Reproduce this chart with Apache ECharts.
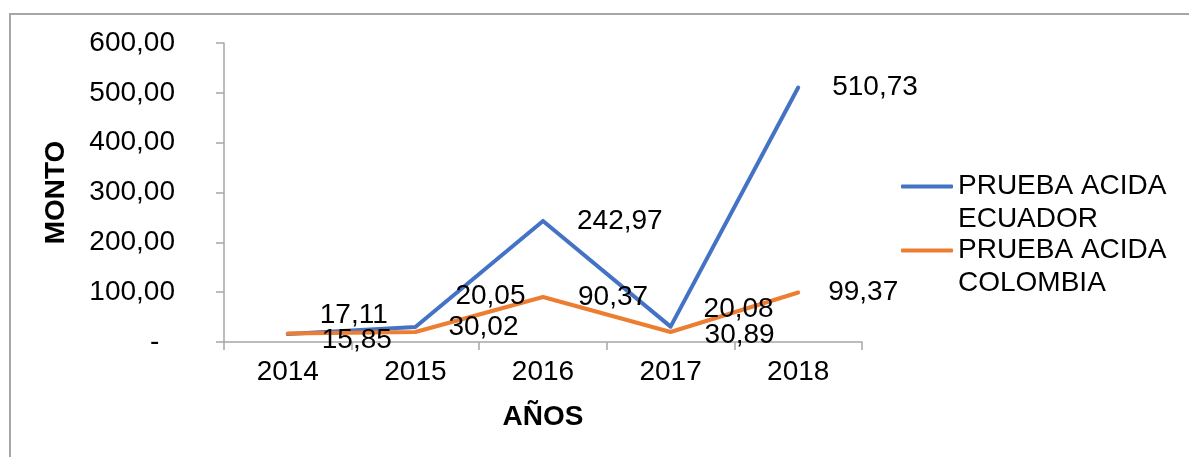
<!DOCTYPE html>
<html>
<head>
<meta charset="utf-8">
<script src="https://cdn.jsdelivr.net/npm/echarts@6/dist/echarts.min.js"></script>
<style>
  html, body { margin: 0; padding: 0; background: #fff; }
  #main { width: 1189px; height: 457px; }
</style>
</head>
<body>
<div id="main"></div>
<script>
// datos
var anios = ['2014', '2015', '2016', '2017', '2018'];
var ecuador = [15.85, 30.02, 242.97, 30.89, 510.73];
var colombia = [17.11, 20.05, 90.37, 20.08, 99.37];
var yTicks = [0, 100, 200, 300, 400, 500, 600];

// ajuste manual de etiquetas (como estaban movidas en el original)
var ecuadorLabelDy = [6, 0, 0, 9, 0];
var ecuadorLabelDist = [34, 33, 34, 34, 34];
var colombiaLabelDy = [-18, -36, 0, -23, 0];
var colombiaLabelDist = [32, 40, 35, 33, 30];

var FONT = "'Liberation Sans', Arial, sans-serif";
var FS = 28;

function fmt(v) {
	return v.toFixed(2).replace('.', ',');
}

function buildData(values, dys, dists) {
	return values.map(function (v, i) {
		return {
			value: v,
			label: { distance: dists[i], offset: [0, dys[i]] }
		};
	});
}

var chart = echarts.init(document.getElementById('main'));

chart.setOption({
	backgroundColor: '#fff',
	animation: false,
	textStyle: { fontFamily: FONT },
	graphic: [{
		// marco del area del grafico
		type: 'polyline',
		shape: { points: [[10, 460], [10, 14], [1192, 14]] },
		style: { stroke: '#a6a6a6', lineWidth: 2, fill: null },
		silent: true
	}],
	grid: {
		left: 224,
		right: 327,
		top: 43,
		bottom: 115
	},
	legend: {
		orient: 'vertical',
		left: 901,
		top: 137,
		padding: 0,
		itemGap: -35,
		itemWidth: 52,
		itemHeight: 4,
		icon: 'roundRect',
		// linea vacia arriba para que el icono quede en la primera linea
		formatter: function (name) {
			return '\n' + name.replace(' ECUADOR', '\nECUADOR').replace(' COLOMBIA', '\nCOLOMBIA');
		},
		textStyle: {
			fontFamily: FONT,
			fontSize: FS,
			color: '#000',
			lineHeight: 33
		},
		data: ['PRUEBA ACIDA ECUADOR', 'PRUEBA ACIDA COLOMBIA']
	},
	xAxis: {
		type: 'category',
		data: anios,
		boundaryGap: true,
		name: 'AÑOS',
		nameLocation: 'middle',
		nameGap: 61,
		nameTextStyle: { fontFamily: FONT, fontSize: FS, fontWeight: 'bold', color: '#000' },
		axisLine: { lineStyle: { color: '#a6a6a6', width: 1.5 } },
		axisTick: { show: true, length: 8, lineStyle: { color: '#a6a6a6', width: 1.5 } },
		axisLabel: { fontFamily: FONT, fontSize: FS, color: '#000', margin: 16 },
		splitLine: { show: false }
	},
	yAxis: {
		type: 'value',
		min: yTicks[0],
		max: yTicks[yTicks.length - 1],
		interval: yTicks[1] - yTicks[0],
		name: 'MONTO',
		nameLocation: 'middle',
		nameRotate: 90,
		nameGap: 154,
		nameTextStyle: { fontFamily: FONT, fontSize: FS, fontWeight: 'bold', color: '#000' },
		axisLine: { show: true, lineStyle: { color: '#a6a6a6', width: 1.5 } },
		axisTick: { show: true, length: 8, lineStyle: { color: '#a6a6a6', width: 1.5 } },
		axisLabel: {
			fontFamily: FONT,
			fontSize: FS,
			color: '#000',
			margin: 49,
			formatter: function (v) {
				return v === 0 ? '-  ' : fmt(v);
			}
		},
		splitLine: { show: false }
	},
	series: [
		{
			name: 'PRUEBA ACIDA ECUADOR',
			type: 'line',
			data: buildData(ecuador, ecuadorLabelDy, ecuadorLabelDist),
			symbol: 'circle',
			symbolSize: 0,
			color: '#4472C4',
			lineStyle: { color: '#4472C4', width: 4, cap: 'round', join: 'round' },
			label: {
				show: true,
				position: 'right',
				fontFamily: FONT,
				fontSize: FS,
				color: '#000',
				formatter: function (p) { return fmt(p.value); }
			}
		},
		{
			name: 'PRUEBA ACIDA COLOMBIA',
			type: 'line',
			data: buildData(colombia, colombiaLabelDy, colombiaLabelDist),
			symbol: 'circle',
			symbolSize: 0,
			color: '#ED7D31',
			lineStyle: { color: '#ED7D31', width: 4, cap: 'round', join: 'round' },
			label: {
				show: true,
				position: 'right',
				fontFamily: FONT,
				fontSize: FS,
				color: '#000',
				formatter: function (p) { return fmt(p.value); }
			}
		}
	]
});
</script>
</body>
</html>
